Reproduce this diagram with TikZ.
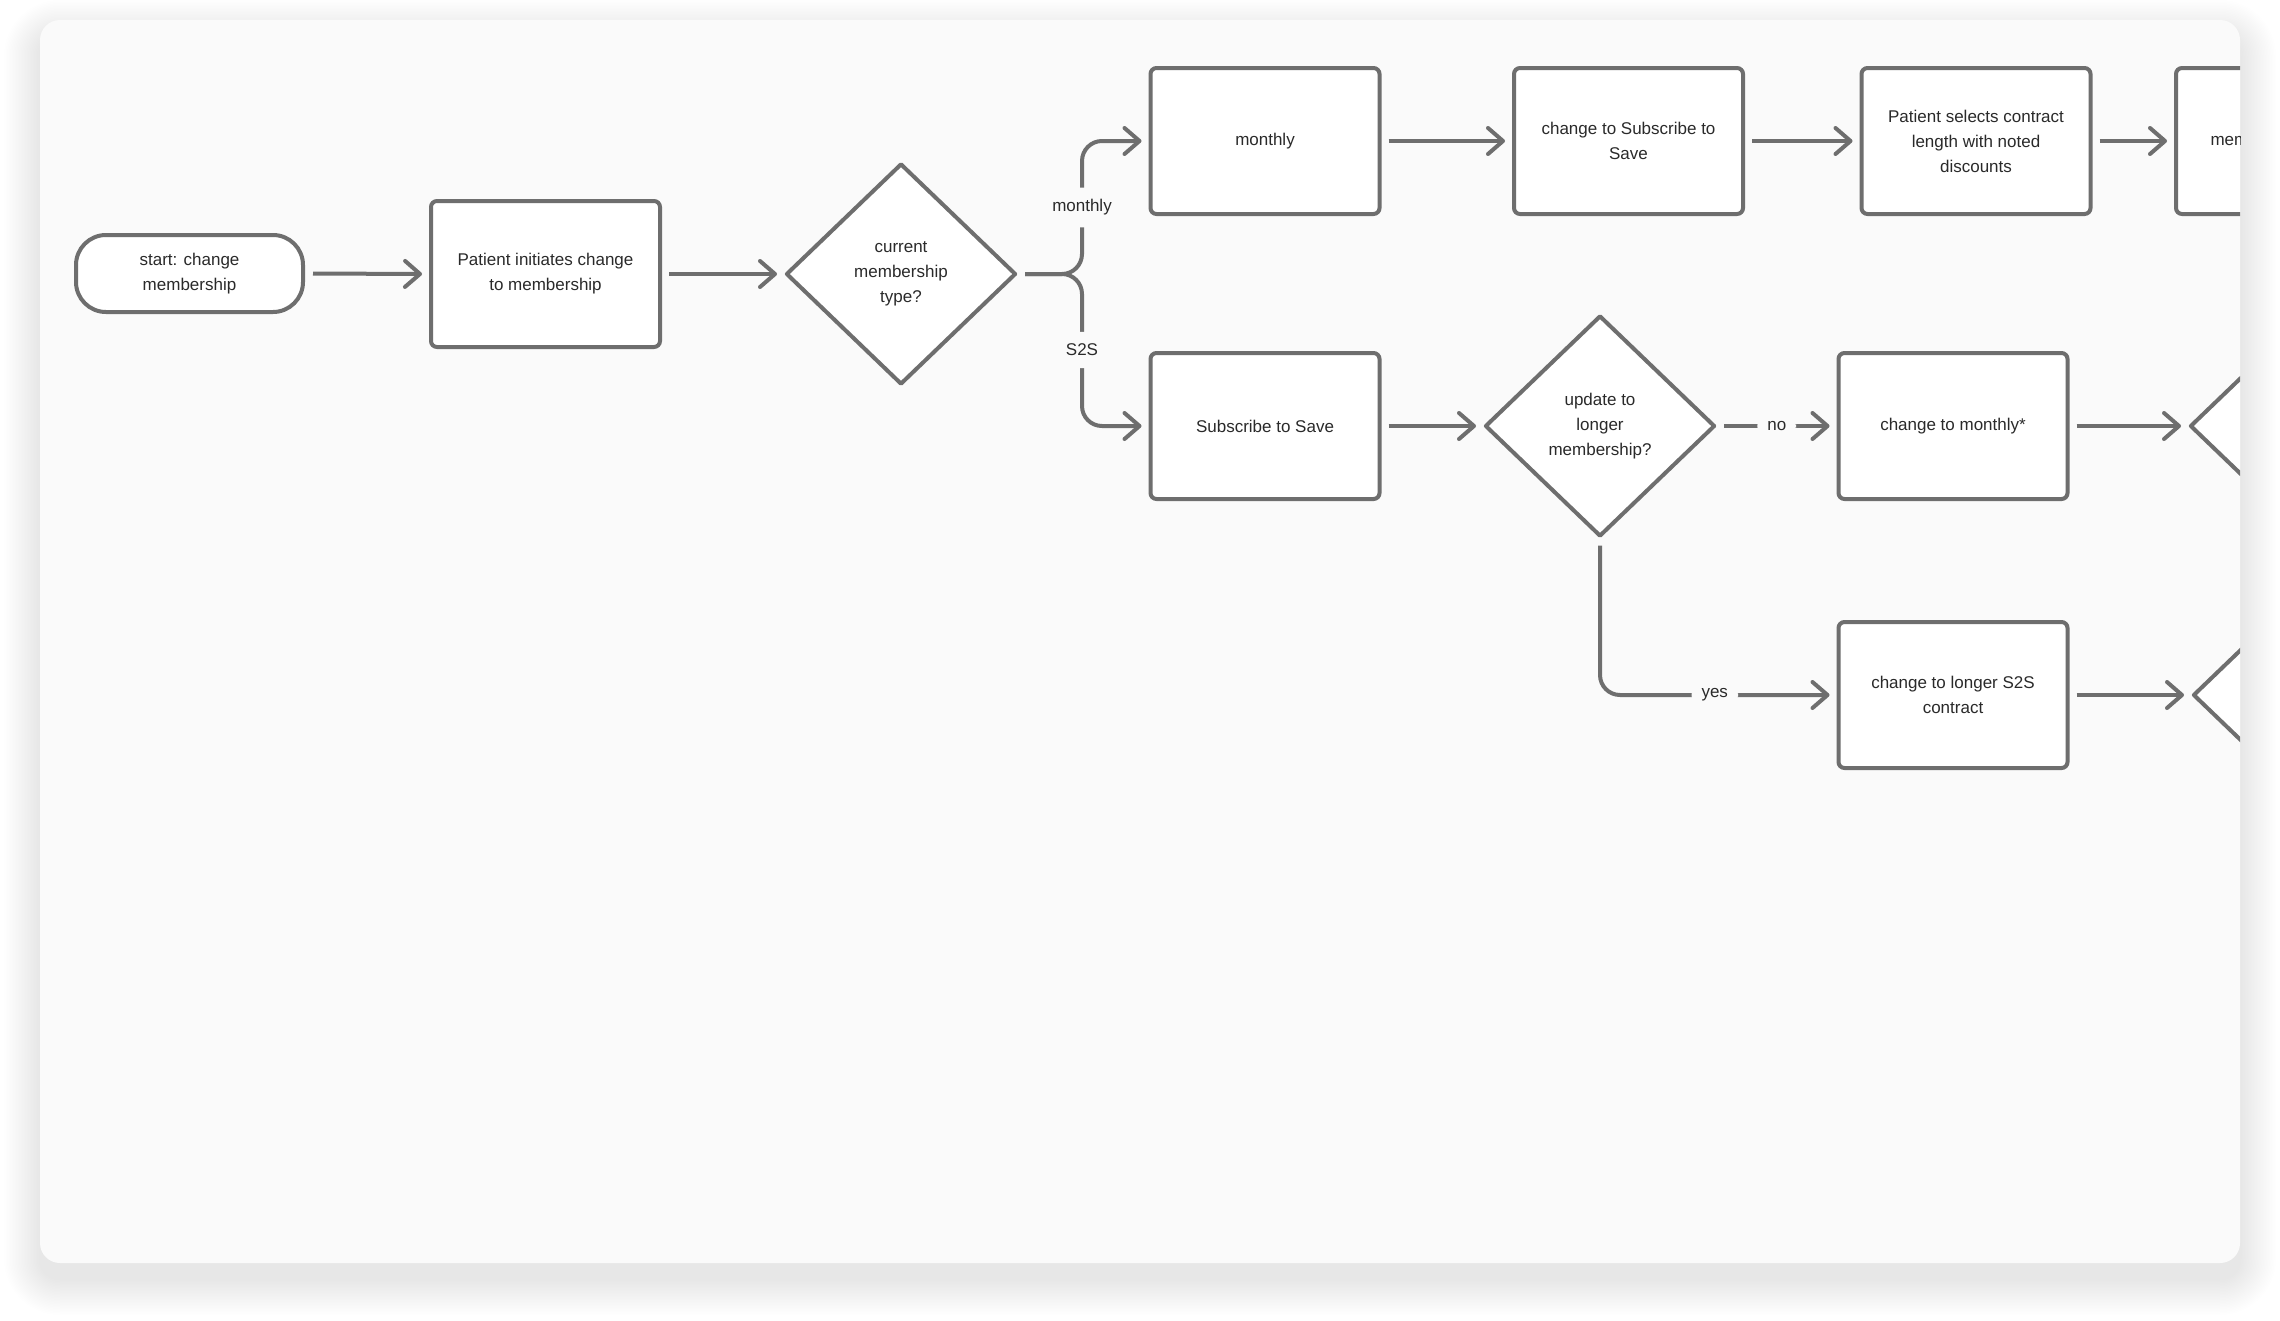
\documentclass[tikz,border=0pt]{standalone}
\usepackage{fontspec}
\setmainfont{Liberation Sans}
\usetikzlibrary{shapes.geometric,arrows.meta}
\definecolor{stroke}{HTML}{6E6E6E}
\definecolor{ink}{HTML}{2A2A2A}
\definecolor{cardbg}{HTML}{FAFAFA}
\begin{document}
\begin{tikzpicture}[x=1pt,y=-1pt,
  every node/.style={font=\fontsize{17}{25}\selectfont, text=ink, align=center},
  box/.style={draw=stroke, line width=4pt, fill=white, rounded corners=6pt,
    minimum width=229pt, minimum height=146pt, inner sep=0pt},
  startn/.style={box, rounded corners=30pt, minimum width=227pt, minimum height=77pt},
  dia/.style={diamond, draw=stroke, line width=4pt, fill=white, line join=round,
    minimum width=230pt, minimum height=221pt, inner sep=0pt},
  conn/.style={draw=stroke, line width=4pt, rounded corners=20pt,
    -{Straight Barb[length=15pt,width=26pt,round]}},
  lbl/.style={fill=cardbg, inner xsep=10pt, inner ysep=12pt}
]
\useasboundingbox (0,0) rectangle (2280,1320);
\fill[white] (0,0) rectangle (2280,1320);
% card shadow
\foreach \i in {1,...,24}{
  \fill[black, opacity=0.005, rounded corners={20pt+\i*1.5pt}]
    ({40-\i*1.5},{36-\i*1.5}) rectangle ({2240+\i*1.5},{1279+\i*1.5});
}
\fill[cardbg, rounded corners=20pt] (40,20) rectangle (2240,1263);
\begin{scope}
\clip[rounded corners=20pt] (40,20) rectangle (2240,1263);

\node[startn] (start) at (189.5,273.5) {start: change\\membership};
\node[box] (init) at (545.5,274) {Patient initiates change\\to membership};
\node[dia] (d1) at (901,274) {current\\membership\\type?};
\node[box] (mon) at (1265,141) {monthly};
\node[box] (cts) at (1628.5,141) {change to Subscribe to\\Save};
\node[box] (sel) at (1976,141) {Patient selects contract\\length with noted\\discounts};
\node[box] (mem) at (2290.5,141) {};
\node[anchor=west] (memt) at (2207,141) {mem};
\node[box] (s2s) at (1265,426) {Subscribe to Save};
\node[dia] (d2) at (1600,426) {update to\\longer\\membership?};
\node[box] (cm) at (1953,426) {change to monthly*};
\node[dia] (d3) at (2305,426) {};
\node[box] (cl) at (1953,695) {change to longer S2S\\contract};
\node[dia] (d4) at (2308,695) {};

\coordinate (bx) at (1082,0);
\draw[conn] ([xshift=8]start.east) -- ([xshift=-7]init.west);
\draw[conn] ([xshift=7]init.east) -- ([xshift=-7]d1.west);
\draw[conn] ([xshift=7]d1.east) -- (d1.east -| bx) |- node[lbl,pos=0.25]{monthly} ([xshift=-7]mon.west);
\draw[conn] ([xshift=7]d1.east) -- (d1.east -| bx) |- node[lbl,pos=0.25]{S2S} ([xshift=-7]s2s.west);
\draw[conn] ([xshift=7]mon.east) -- ([xshift=-7]cts.west);
\draw[conn] ([xshift=7]cts.east) -- ([xshift=-7]sel.west);
\draw[conn] ([xshift=7]sel.east) -- ([xshift=-7]mem.west);
\draw[conn] ([xshift=7]s2s.east) -- ([xshift=-7]d2.west);
\draw[conn] ([xshift=7]d2.east) -- node[lbl]{no} ([xshift=-7]cm.west);
\draw[conn] ([yshift=-7]d2.south) |- node[lbl,pos=0.75]{yes} ([xshift=-7]cl.west);
\draw[conn] ([xshift=7]cm.east) -- ([xshift=-7]d3.west);
\draw[conn] ([xshift=7]cl.east) -- ([xshift=-7]d4.west);
\end{scope}
\end{tikzpicture}
\end{document}
